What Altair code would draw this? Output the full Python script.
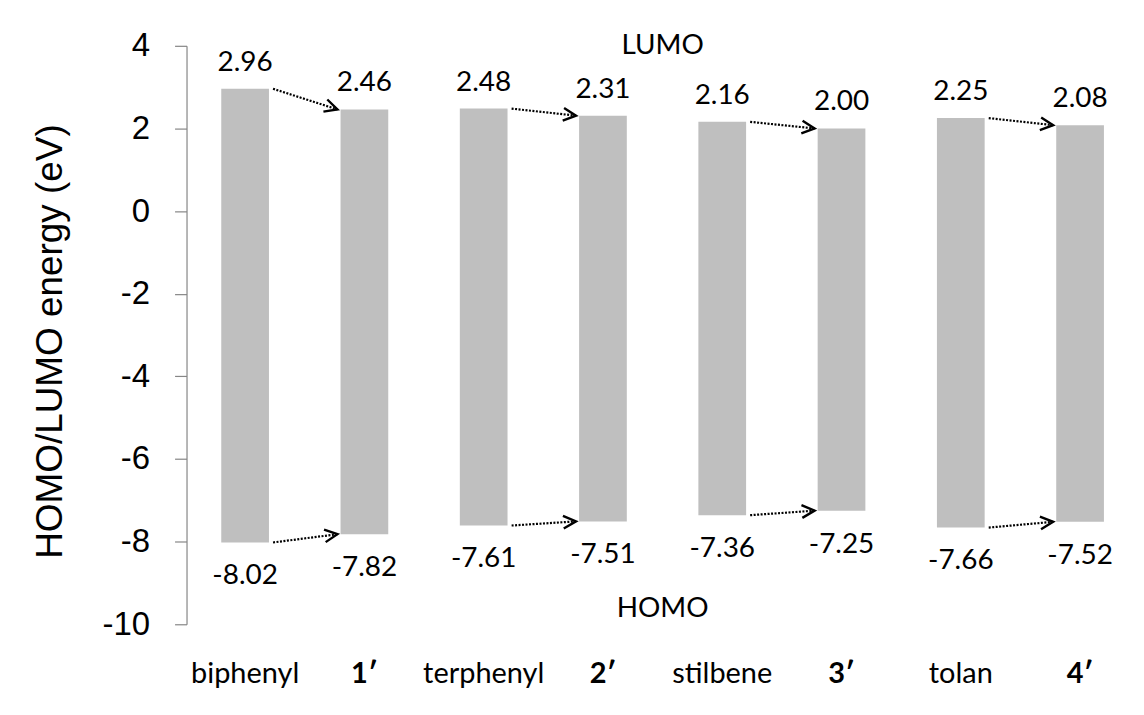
import math
import altair as alt
import pandas as pd

categories = ["biphenyl", "1′", "terphenyl", "2′", "stilbene", "3′", "tolan", "4′"]
lumo = [2.96, 2.46, 2.48, 2.31, 2.16, 2.00, 2.25, 2.08]
homo = [-8.02, -7.82, -7.61, -7.51, -7.36, -7.25, -7.66, -7.52]
pairs = [(0, 1), (2, 3), (4, 5), (6, 7)]
y_ticks = [-10, -8, -6, -4, -2, 0, 2, 4]

W, H = 952, 580
P_IN, P_OUT, ALIGN = 0.6, 0.28, 0.52
Y_MIN, Y_MAX = -10, 4
step = W / (len(categories) - P_IN + 2 * P_OUT)
ppu = H / (Y_MAX - Y_MIN)
A_START, A_END = 28, 27
dx = step - A_START - A_END

bars = pd.DataFrame({
    "cat": categories,
    "lumo": lumo,
    "homo": homo,
    "lumo_txt": [f"{v:.2f}" for v in lumo],
    "homo_txt": [f"{v:.2f}" for v in homo],
})

rows = []
for a, b in pairs:
    for vals in (lumo, homo):
        dy = (vals[a] - vals[b]) * ppu
        ang = (math.degrees(math.atan2(dy, dx)) + 360) % 360
        rows.append({"from": categories[a], "to": categories[b],
                     "v_from": vals[a], "v_to": vals[b], "angle": ang})
arrows = pd.DataFrame(rows)

FONT = "Lato"
AXFONT = "Liberation Sans"
FS = 28

xscale = alt.Scale(domain=categories, paddingInner=P_IN, paddingOuter=P_OUT, align=ALIGN)
yscale = alt.Scale(domain=[Y_MIN, Y_MAX], nice=False)

x_axis = alt.Axis(
    title=None, domain=False, ticks=False, labelAngle=0,
    labelFont=FONT, labelFontSize=29, labelColor="black",
    labelPadding=35, labelBaseline="top",
    labelFontWeight={"condition": {"test": "indexof(datum.label, '′') >= 0", "value": "bold"}, "value": "normal"},
)
y_axis = alt.Axis(
    title="HOMO/LUMO energy (eV)", values=y_ticks, grid=False,
    domainColor="#868686", tickColor="#868686", tickSize=12, domainWidth=1.2, tickWidth=1.2,
    labelFont=AXFONT, labelFontSize=33, labelColor="black", labelPadding=25,
    labelExpr="'' + datum.value",
    titleFont=AXFONT, titleFontSize=37, titleFontWeight="normal", titleColor="black",
    titleAngle=270, titleAlign="center", titleBaseline="alphabetic",
    titleX=-125, titleY=296,
)

base = alt.Chart(bars)

bar_layer = base.mark_bar(color="#bfbfbf").encode(
    x=alt.X("cat:N", scale=xscale, axis=x_axis, sort=categories),
    y=alt.Y("homo:Q", scale=yscale, axis=y_axis),
    y2="lumo:Q",
)

top_txt = base.mark_text(font=FONT, fontSize=FS, color="black", baseline="middle", dy=-26).encode(
    x=alt.X("cat:N", scale=xscale, sort=categories),
    y=alt.Y("lumo:Q", scale=yscale),
    text="lumo_txt:N",
)
bot_txt = base.mark_text(font=FONT, fontSize=FS, color="black", baseline="middle", dy=34).encode(
    x=alt.X("cat:N", scale=xscale, sort=categories),
    y=alt.Y("homo:Q", scale=yscale),
    text="homo_txt:N",
)

arrow_base = alt.Chart(arrows)
arrow_lines = arrow_base.mark_rule(
    color="black", strokeWidth=2.2, strokeDash=[2, 1.5], xOffset=A_START, x2Offset=-A_END
).encode(
    x=alt.X("from:N", scale=xscale),
    x2="to:N",
    y=alt.Y("v_from:Q", scale=yscale),
    y2="v_to:Q",
)
arrow_heads = arrow_base.mark_point(
    shape="M-1,-0.5L0,0L-1,0.5", filled=False, color="black", strokeWidth=2.4,
    size=650, opacity=1, xOffset=-A_END,
).encode(
    x=alt.X("to:N", scale=xscale),
    y=alt.Y("v_to:Q", scale=yscale),
    angle=alt.Angle("angle:Q", scale=None),
)

lumo_lbl = alt.Chart(pd.DataFrame({"t": ["LUMO"]})).mark_text(
    font=FONT, fontSize=FS, color="black", baseline="middle", xOffset=step / 2
).encode(
    x=alt.X("cat:N", scale=xscale),
    y=alt.Y("v:Q", scale=yscale),
    text="t:N",
).transform_calculate(cat="'2′'", v="4")
homo_lbl = alt.Chart(pd.DataFrame({"t": ["HOMO"]})).mark_text(
    font=FONT, fontSize=FS, color="black", baseline="middle", xOffset=step / 2
).encode(
    x=alt.X("cat:N", scale=xscale),
    y=alt.Y("v:Q", scale=yscale),
    text="t:N",
).transform_calculate(cat="'2′'", v="-9.62")

chart = alt.layer(
    bar_layer, arrow_lines, arrow_heads, top_txt, bot_txt, lumo_lbl, homo_lbl
).properties(
    width=W, height=H,
    autosize=alt.AutoSizeParams(type="none"),
    padding={"left": 179, "top": 37, "right": 0, "bottom": 70},
).configure_view(stroke=None)

chart.save("out.html", embed_options={"renderer": "svg", "actions": False})
